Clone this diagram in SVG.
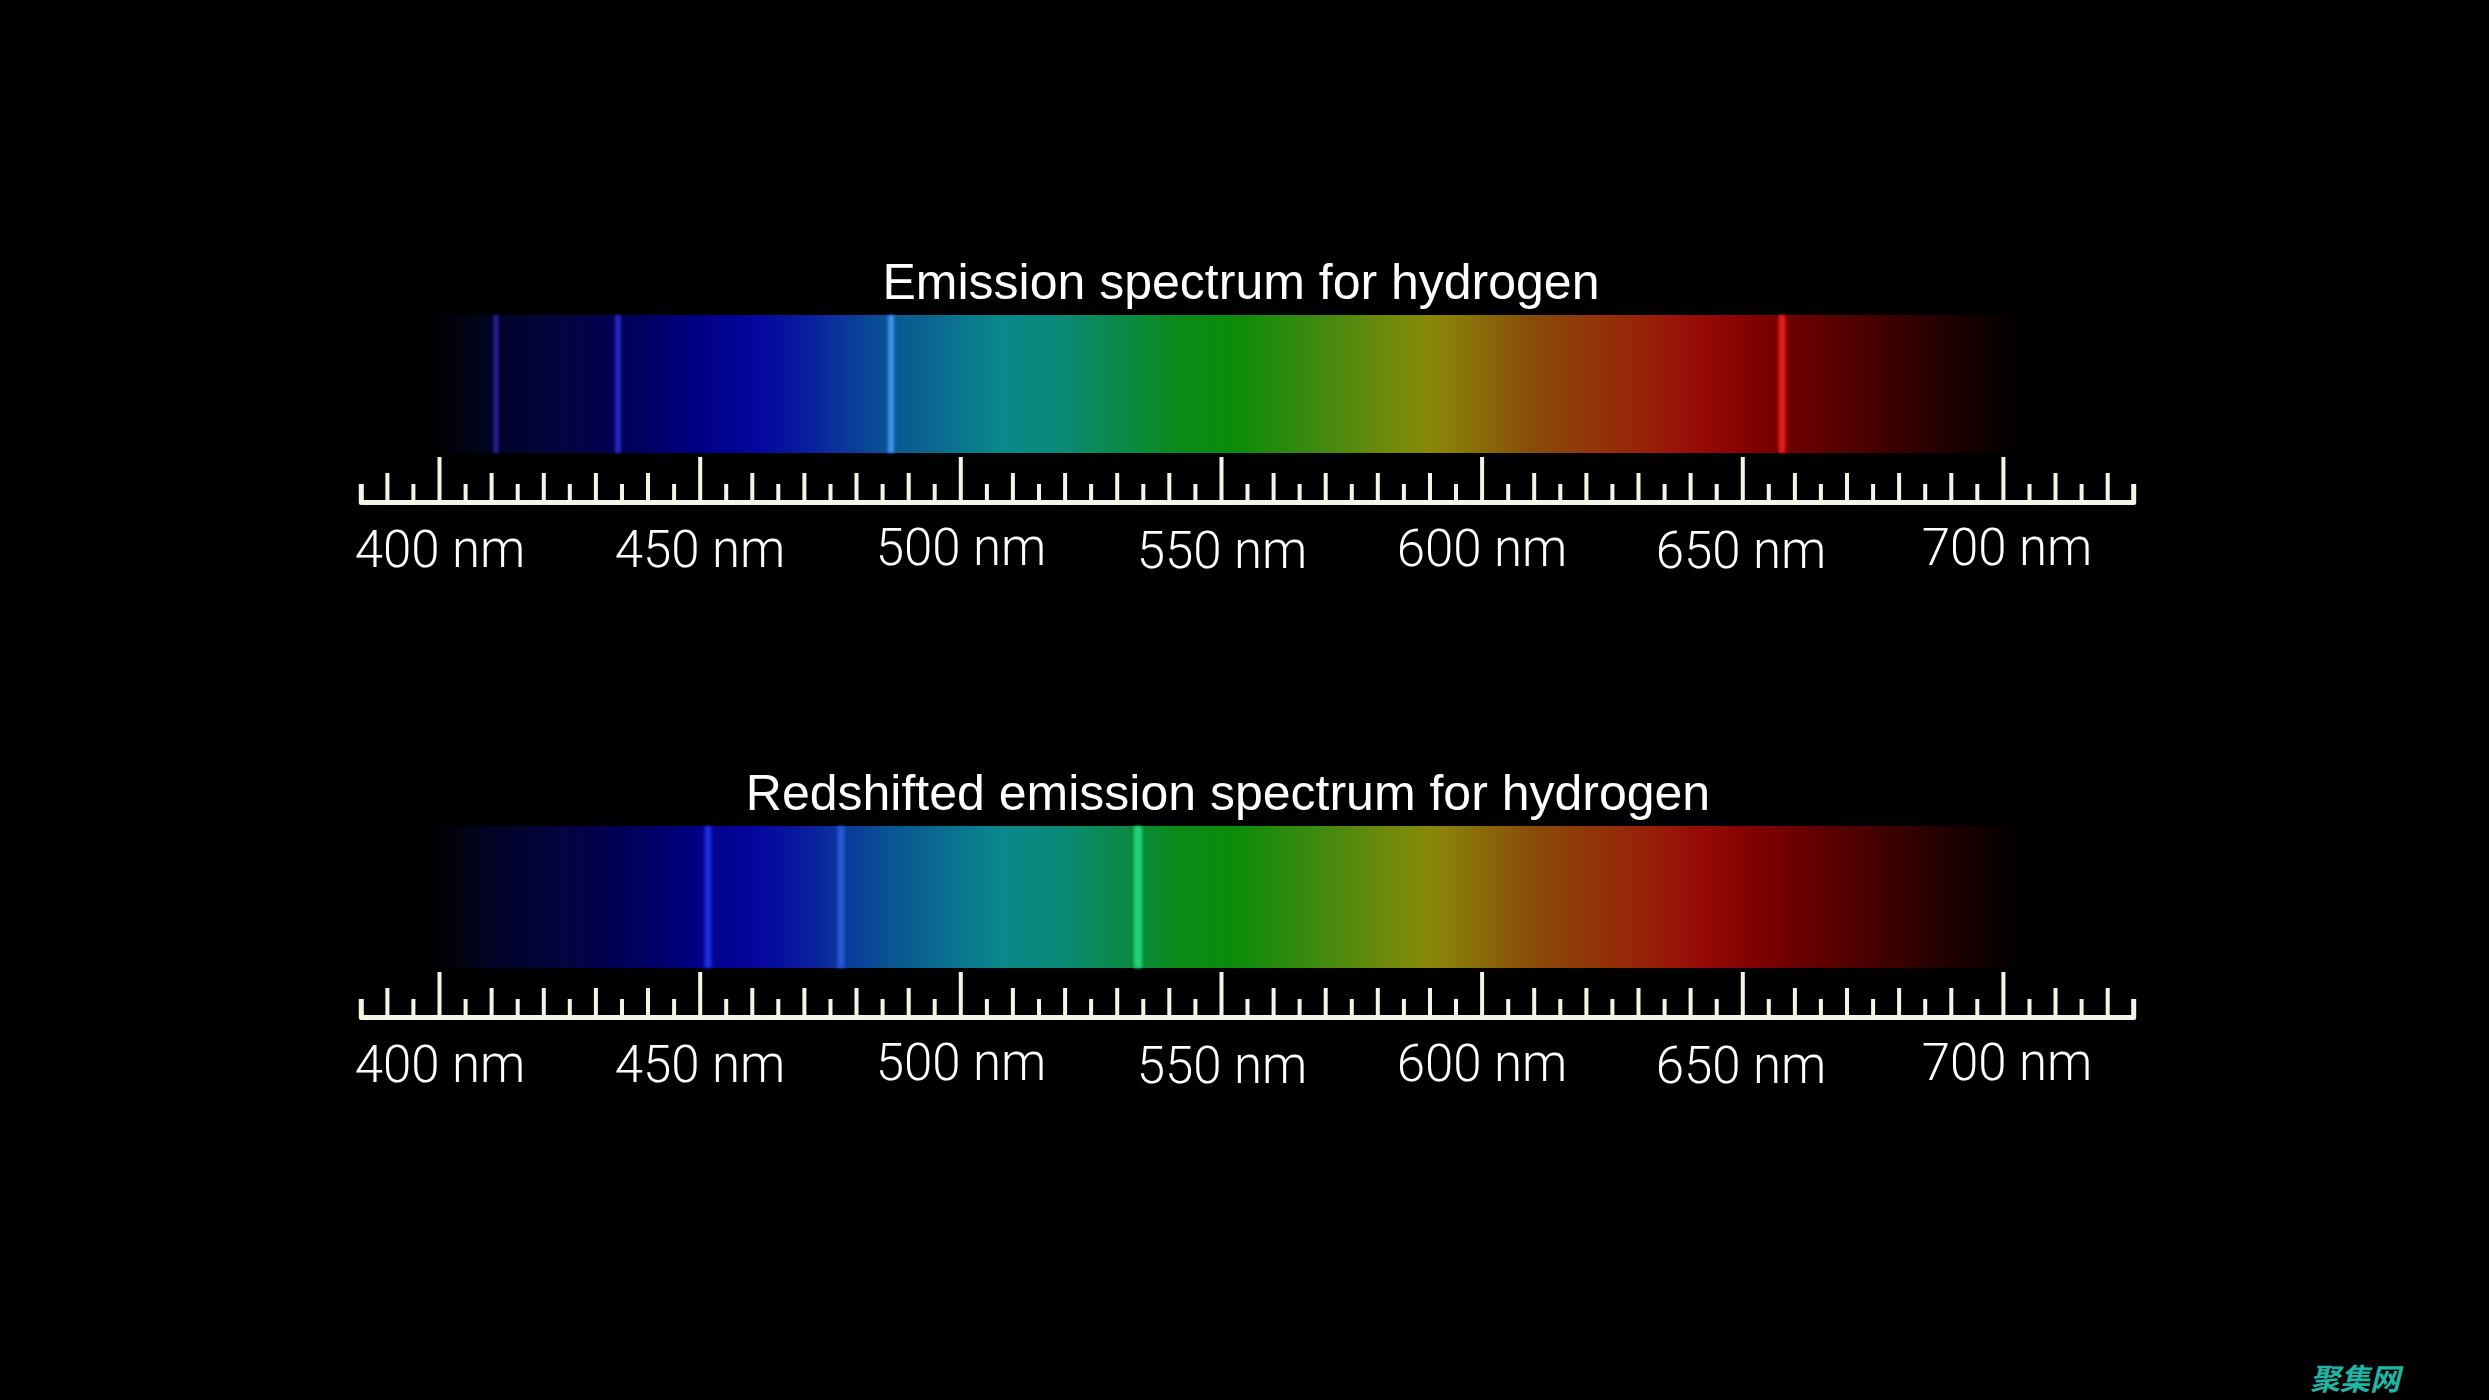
<svg xmlns="http://www.w3.org/2000/svg" width="2489" height="1400" viewBox="0 0 2489 1400">
  <style>
    .title { font-family: "Liberation Sans", Arial, sans-serif; font-size: 50px; fill: #ffffff; text-anchor: middle; }
    .lbl { font-family: Roboto, "Liberation Sans", Arial, sans-serif; font-weight: 300; font-size: 51px; fill: #ffffff; text-anchor: middle; }
    .tick { stroke: #f6f4e6; stroke-width: 4; fill: none; }
    .base { stroke: #f6f4e6; stroke-width: 5; fill: none; stroke-linejoin: round; }
    .wm { font-family: "Noto Sans CJK SC", sans-serif; font-size: 30px; font-weight: bold; font-style: italic; fill: #1fb5a5; }
  </style>
  <defs>
    <linearGradient id="spec" gradientUnits="userSpaceOnUse" x1="430" y1="0" x2="2016" y2="0">
      <stop offset="0" stop-color="#000000"/>
      <stop offset="0.019" stop-color="#020210"/>
      <stop offset="0.044" stop-color="#03032a"/>
      <stop offset="0.082" stop-color="#04043f"/>
      <stop offset="0.120" stop-color="#000055"/>
      <stop offset="0.170" stop-color="#000086"/>
      <stop offset="0.208" stop-color="#0606a0"/>
      <stop offset="0.240" stop-color="#0a209c"/>
      <stop offset="0.265" stop-color="#0a3c9a"/>
      <stop offset="0.296" stop-color="#0a5a92"/>
      <stop offset="0.328" stop-color="#0a7090"/>
      <stop offset="0.359" stop-color="#0a888c"/>
      <stop offset="0.397" stop-color="#0a8a78"/>
      <stop offset="0.429" stop-color="#0a8a50"/>
      <stop offset="0.473" stop-color="#0a8a18"/>
      <stop offset="0.506" stop-color="#0a8c0a"/>
      <stop offset="0.556" stop-color="#3a8a10"/>
      <stop offset="0.599" stop-color="#6a8a0c"/>
      <stop offset="0.631" stop-color="#8a880a"/>
      <stop offset="0.662" stop-color="#8a6c0a"/>
      <stop offset="0.697" stop-color="#8a4a08"/>
      <stop offset="0.753" stop-color="#962a08"/>
      <stop offset="0.801" stop-color="#980a06"/>
      <stop offset="0.843" stop-color="#7a0000"/>
      <stop offset="0.895" stop-color="#520000"/>
      <stop offset="0.948" stop-color="#280000"/>
      <stop offset="0.979" stop-color="#100000"/>
      <stop offset="1" stop-color="#000000"/>
    </linearGradient>
    <filter id="soft" x="-2" y="-0.1" width="5" height="1.2">
      <feGaussianBlur stdDeviation="1.8"/>
    </filter>
    <g id="ruler">
      <path class="base" d="M361.3 484V502.5H2133.7V484"/>
      <path class="tick" d="M439.5 457v45M700.2 457v45M960.8 457v45M1221.5 457v45M1482.1 457v45M1742.8 457v45M2003.4 457v45"/>
      <path class="tick" d="M387.4 473v29M491.6 473v29M543.8 473v29M595.9 473v29M648 473v29M752.3 473v29M804.4 473v29M856.5 473v29M908.7 473v29M1012.9 473v29M1065.1 473v29M1117.2 473v29M1169.3 473v29M1273.6 473v29M1325.7 473v29M1377.8 473v29M1430 473v29M1534.2 473v29M1586.4 473v29M1638.5 473v29M1690.6 473v29M1794.9 473v29M1847 473v29M1899.1 473v29M1951.3 473v29M2055.5 473v29M2107.7 473v29"/>
      <path class="tick" d="M413.4 484v18M465.6 484v18M517.7 484v18M569.8 484v18M622 484v18M674.1 484v18M726.2 484v18M778.3 484v18M830.5 484v18M882.6 484v18M934.7 484v18M986.9 484v18M1039 484v18M1091.1 484v18M1143.3 484v18M1195.4 484v18M1247.5 484v18M1299.6 484v18M1351.8 484v18M1403.9 484v18M1456 484v18M1508.2 484v18M1560.3 484v18M1612.4 484v18M1664.6 484v18M1716.7 484v18M1768.8 484v18M1820.9 484v18M1873.1 484v18M1925.2 484v18M1977.3 484v18M2029.5 484v18M2081.6 484v18"/>
      <text class="lbl" x="440" y="567">400 nm</text>
      <text class="lbl" x="700" y="567">450 nm</text>
      <text class="lbl" x="961" y="565">500 nm</text>
      <text class="lbl" x="1222" y="568">550 nm</text>
      <text class="lbl" x="1482" y="566">600 nm</text>
      <text class="lbl" x="1741" y="568">650 nm</text>
      <text class="lbl" x="2007" y="565">700 nm</text>
    </g>
  </defs>
  <rect x="0" y="0" width="2489" height="1400" fill="#000000"/>

  <g id="panel-emission">
    <text id="title-emission" class="title" x="1241" y="299">Emission spectrum for hydrogen</text>
    <g id="spectrum-emission">
      <rect x="430" y="315" width="1586" height="138" fill="url(#spec)"/>
      <g filter="url(#soft)">
        <rect x="493" y="315" width="6" height="138" fill="#1c1c84"/>
        <rect x="615" y="315" width="6" height="138" fill="#2626bc"/>
        <rect x="888" y="315" width="6" height="138" fill="#3a94ee"/>
        <rect x="1778.5" y="315" width="7" height="138" fill="#e41c1c"/>
      </g>
    </g>
    <use id="ruler-emission" href="#ruler"/>
  </g>

  <g id="panel-redshifted">
    <text id="title-redshifted" class="title" x="1228" y="810">Redshifted emission spectrum for hydrogen</text>
    <g id="spectrum-redshifted">
      <rect x="430" y="826" width="1586" height="142" fill="url(#spec)"/>
      <g filter="url(#soft)">
        <rect x="704.5" y="826" width="7" height="142" fill="#1a2ee0"/>
        <rect x="837.5" y="826" width="7" height="142" fill="#2a58d4"/>
        <rect x="1134" y="826" width="8" height="142" fill="#20d478"/>
      </g>
    </g>
    <use id="ruler-redshifted" href="#ruler" transform="translate(0,515)"/>
  </g>

  <text id="watermark" class="wm" x="2310" y="1390">聚集网</text>
</svg>
